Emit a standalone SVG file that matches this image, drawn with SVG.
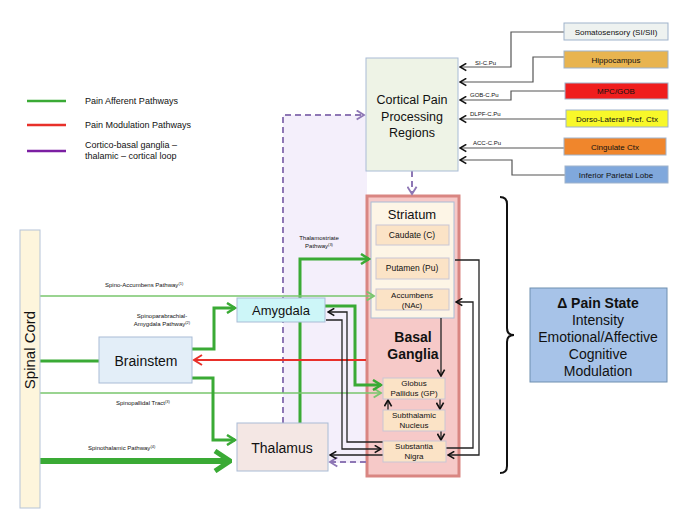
<svg xmlns="http://www.w3.org/2000/svg" width="685" height="517" viewBox="0 0 685 517">
<style>
text{font-family:"Liberation Sans",Arial,sans-serif;fill:#111}
.node{stroke:#a9bcd6;stroke-width:1}
.sub{fill:#fbe3c6;stroke:#c9c6d4;stroke-width:1}
.src{stroke:#9fb3cc;stroke-width:1}
.lbl{font-size:6px;font-family:"Liberation Sans Narrow","Liberation Sans",sans-serif}
.c{text-anchor:middle}
.gk{fill:none;stroke:#3aaa35;stroke-width:3}
.gt{fill:none;stroke:#79c66d;stroke-width:1.5}
.bk{fill:none;stroke:#222;stroke-width:1.3}
.gy{fill:none;stroke:#555;stroke-width:1.2}
.pd{fill:none;stroke:#8e77b5;stroke-width:2;stroke-dasharray:6,4}
</style>
<defs>
<marker id="aG" viewBox="0 0 12 12" refX="10" refY="6" markerWidth="12" markerHeight="12" markerUnits="userSpaceOnUse" orient="auto"><path d="M2,1 L10,6 L2,11" fill="none" stroke="#3aaa35" stroke-width="2.5"/></marker>
<marker id="aGt" viewBox="0 0 12 12" refX="10" refY="6" markerWidth="11" markerHeight="11" markerUnits="userSpaceOnUse" orient="auto"><path d="M2,1 L10,6 L2,11" fill="none" stroke="#79c66d" stroke-width="2"/></marker>
<marker id="aGb" viewBox="0 0 20 24" refX="18" refY="12" markerWidth="20" markerHeight="24" markerUnits="userSpaceOnUse" orient="auto"><path d="M3,2 L18,12 L3,22" fill="none" stroke="#3aaa35" stroke-width="5"/></marker>
<marker id="aK" viewBox="0 0 10 10" refX="9" refY="5" markerWidth="9" markerHeight="9" markerUnits="userSpaceOnUse" orient="auto"><path d="M2,1 L9,5 L2,9" fill="none" stroke="#111" stroke-width="1.8"/></marker>
<marker id="aR" viewBox="0 0 12 12" refX="10" refY="6" markerWidth="12" markerHeight="12" markerUnits="userSpaceOnUse" orient="auto"><path d="M2,1 L10,6 L2,11" fill="none" stroke="#e8302a" stroke-width="2"/></marker>
<marker id="aP" viewBox="0 0 12 12" refX="10" refY="6" markerWidth="11" markerHeight="11" markerUnits="userSpaceOnUse" orient="auto"><path d="M2,1 L10,6 L2,11" fill="none" stroke="#8e77b5" stroke-width="2"/></marker>
</defs>
<rect width="685" height="517" fill="#fff"/>
<rect x="283" y="115" width="84" height="348" fill="#f4effb"/>

<g id="legend">
<line x1="27" y1="101" x2="66" y2="101" stroke="#3aaa35" stroke-width="2.5"/>
<text x="85" y="104" font-size="9">Pain Afferent Pathways</text>
<line x1="27" y1="125" x2="66" y2="125" stroke="#e8302a" stroke-width="2.5"/>
<text x="85" y="128" font-size="9">Pain Modulation Pathways</text>
<line x1="27" y1="151" x2="66" y2="151" stroke="#7b1fa2" stroke-width="2.5"/>
<text x="85" y="148" font-size="9">Cortico-basal ganglia –</text>
<text x="85" y="159" font-size="9">thalamic – cortical loop</text>
</g>

<g id="basal-ganglia">
<rect x="367" y="196" width="92" height="280" fill="#f6c9c8" stroke="#d98682" stroke-width="3"/>
<text class="c" x="413" y="342" font-size="14" font-weight="bold">Basal</text>
<text class="c" x="413" y="359" font-size="14" font-weight="bold">Ganglia</text>
</g>
<g id="striatum">
<rect x="371" y="202" width="83" height="116" fill="#fdf5e6" stroke="#a9bcd6" stroke-width="1"/>
<text class="c" x="412" y="219" font-size="13">Striatum</text>
</g>

<g id="connectors">
<path class="gk" d="M300,423 V259 H369" marker-end="url(#aG)"/>
<path class="pd" d="M283,423 V115 H364" marker-end="url(#aP)"/>
<path class="pd" d="M412,171 V194" marker-end="url(#aP)"/>
<path class="pd" d="M366,462 H330" marker-end="url(#aP)"/>
<path class="gt" d="M40,296 H374" marker-end="url(#aGt)"/>
<path class="gt" d="M40,393 H381" marker-end="url(#aGt)"/>
<path class="gk" d="M325,306 H355 V385 H381" marker-end="url(#aG)"/>
<path class="gk" d="M192,349 H214 V308 H235" marker-end="url(#aG)"/>
<path class="gk" d="M192,378 H213 V440 H235" marker-end="url(#aG)"/>
<path class="gk" d="M40,361 H99"/>
<path fill="none" stroke="#3aaa35" stroke-width="6" d="M40,461 H230" marker-end="url(#aGb)"/>
<path fill="none" stroke="#e8302a" stroke-width="2" d="M366,360 H194" marker-end="url(#aR)"/>
<path class="bk" d="M383,442 H347 V312 H328" marker-end="url(#aK)"/>
<path class="bk" d="M326,320 H342 V449 H381" marker-end="url(#aK)"/>
<path class="bk" d="M383,455 H330" marker-end="url(#aK)"/>
<path class="bk" d="M455,260 H479 V455 H448" marker-end="url(#aK)"/>
<path class="bk" d="M446,448 H473 V302 H456" marker-end="url(#aK)"/>
<path class="bk" d="M441,318 V376" marker-end="url(#aK)"/>
<path class="bk" d="M440,399 V409" marker-end="url(#aK)"/>
<path class="bk" d="M441,431 V440" marker-end="url(#aK)"/>
<path class="bk" d="M388,410 V400" marker-end="url(#aK)"/>
<path class="gy" d="M564,32 H511 V67 H460" marker-end="url(#aK)"/>
<path class="gy" d="M564,57 H533 V82 H460" marker-end="url(#aK)"/>
<path class="gy" d="M565,91 H511 V100 H460" marker-end="url(#aK)"/>
<path class="gy" d="M566,119 H460" marker-end="url(#aK)"/>
<path class="gy" d="M564,148 H460" marker-end="url(#aK)"/>
<path class="gy" d="M565,175 H512 V160 H460" marker-end="url(#aK)"/>
<path fill="none" stroke="#111" stroke-width="2" d="M500,197 Q507,197 507,204 V328 Q507,335 514,335 Q507,335 507,342 V466 Q507,473 500,473"/>
<text class="lbl" x="105" y="287">Spino-Accumbens Pathway<tspan font-size="4" dy="-2">(1)</tspan></text>
<text class="lbl c" x="162" y="318">Spinoparabrachial-</text>
<text class="lbl c" x="162" y="326">Amygdala Pathway<tspan font-size="4" dy="-2">(2)</tspan></text>
<text class="lbl c" x="319" y="240">Thalamostriate</text>
<text class="lbl c" x="319" y="248">Pathway<tspan font-size="4" dy="-2">(3)</tspan></text>
<text class="lbl" x="116" y="405">Spinopallidal Tract<tspan font-size="4" dy="-2">(3)</tspan></text>
<text class="lbl" x="88" y="450">Spinothalamic Pathway<tspan font-size="4" dy="-2">(4)</tspan></text>
<text class="lbl" x="475" y="65">SI-C.Pu</text>
<text class="lbl" x="470" y="97">GOB-C.Pu</text>
<text class="lbl" x="470" y="116">DLPF-C.Pu</text>
<text class="lbl" x="473" y="145">ACC-C.Pu</text>
</g>

<g id="spinal-cord">
<rect x="20" y="230" width="20" height="278" fill="#fdf5dc" stroke="#b5c4d8" stroke-width="1"/>
<text class="c" x="0" y="0" font-size="15" transform="translate(35,350) rotate(-90)">Spinal Cord</text>
</g>
<g id="cortical">
<rect x="366" y="58" width="92" height="113" fill="#eef3e6" class="node"/>
<text class="c" x="412" y="104" font-size="12.5">Cortical Pain</text>
<text class="c" x="412" y="121" font-size="12.5">Processing</text>
<text class="c" x="412" y="137" font-size="12.5">Regions</text>
</g>
<g id="caudate"><rect class="sub" x="376" y="225" width="73" height="20"/><text class="c" x="412" y="238" font-size="8.5">Caudate (C)</text></g>
<g id="putamen"><rect class="sub" x="376" y="258" width="73" height="21"/><text class="c" x="412" y="271" font-size="8.5">Putamen (Pu)</text></g>
<g id="accumbens"><rect class="sub" x="376" y="289" width="73" height="21"/><text class="c" x="412" y="298" font-size="8">Accumbens</text><text class="c" x="412" y="308" font-size="8">(NAc)</text></g>
<g id="globus-pallidus"><rect class="sub" x="383" y="378" width="62" height="21"/><text class="c" x="414" y="386" font-size="8">Globus</text><text class="c" x="414" y="396" font-size="8">Pallidus (GP)</text></g>
<g id="subthalamic"><rect class="sub" x="383" y="410" width="62" height="21"/><text class="c" x="414" y="418" font-size="8">Subthalamic</text><text class="c" x="414" y="428" font-size="8">Nucleus</text></g>
<g id="substantia-nigra"><rect class="sub" x="383" y="441" width="63" height="21"/><text class="c" x="414" y="449" font-size="8">Substantia</text><text class="c" x="414" y="459" font-size="8">Nigra</text></g>
<g id="amygdala"><rect class="node" x="237" y="298" width="88" height="24" fill="#cdf6f8"/><text class="c" x="281" y="315" font-size="13">Amygdala</text></g>
<g id="brainstem"><rect class="node" x="99" y="337" width="93" height="46" fill="#e3eef8"/><text class="c" x="146" y="366" font-size="14">Brainstem</text></g>
<g id="thalamus"><rect class="node" x="237" y="423" width="91" height="48" fill="#f4e7e4"/><text class="c" x="282" y="453" font-size="14">Thalamus</text></g>
<g id="somatosensory"><rect class="src" x="564" y="23" width="104" height="17" fill="#eef2f0"/><text class="c" x="616" y="35" font-size="8">Somatosensory (SI/SII)</text></g>
<g id="hippocampus"><rect class="src" x="564" y="51" width="104" height="17" fill="#e8b450"/><text class="c" x="616" y="63" font-size="8">Hippocampus</text></g>
<g id="mpc-gob"><rect class="src" x="565" y="83" width="103" height="16" fill="#f01e1e"/><text class="c" x="616" y="94" font-size="8">MPC/GOB</text></g>
<g id="dlpfc"><rect class="src" x="566" y="110" width="102" height="17" fill="#f8f82a"/><text class="c" x="617" y="122" font-size="8">Dorso-Lateral Pref. Ctx</text></g>
<g id="cingulate"><rect class="src" x="564" y="138" width="102" height="17" fill="#f0862c"/><text class="c" x="615" y="150" font-size="8">Cingulate Ctx</text></g>
<g id="parietal"><rect class="src" x="565" y="166" width="103" height="17" fill="#80a8dc"/><text class="c" x="616" y="178" font-size="8">Inferior Parietal Lobe</text></g>
<g id="pain-state">
<rect x="530" y="288" width="137" height="94" fill="#a7c3e8" stroke="#6f8fb0" stroke-width="1"/>
<text class="c" x="598" y="308" font-size="14" font-weight="bold">Δ Pain State</text>
<text class="c" x="598" y="325" font-size="14">Intensity</text>
<text class="c" x="598" y="342" font-size="14">Emotional/Affective</text>
<text class="c" x="598" y="359" font-size="14">Cognitive</text>
<text class="c" x="598" y="376" font-size="14">Modulation</text>
</g>
</svg>
